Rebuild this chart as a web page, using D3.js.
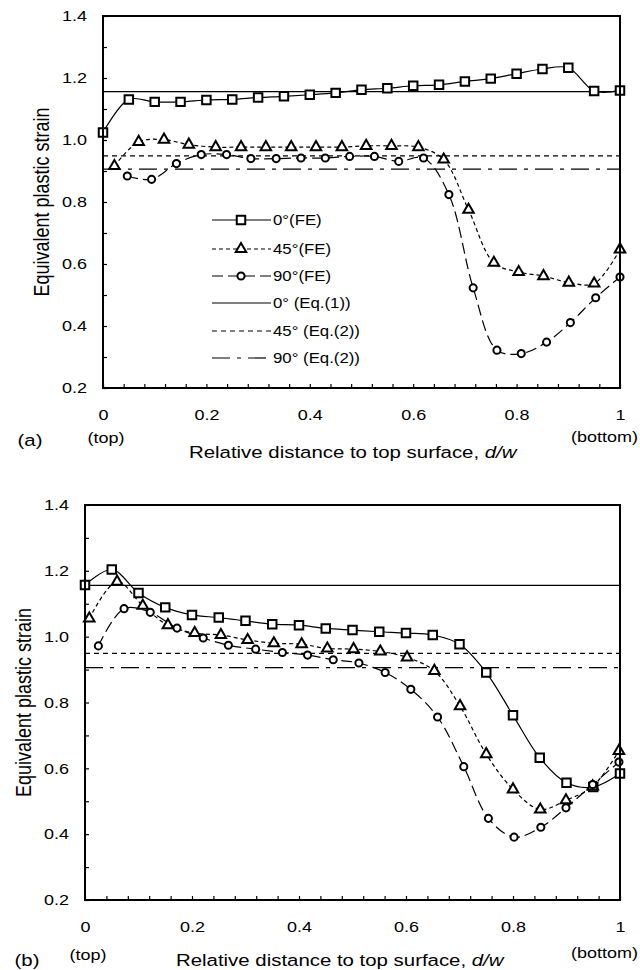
<!DOCTYPE html>
<html>
<head>
<meta charset="utf-8">
<script src="https://cdn.jsdelivr.net/npm/d3@7"></script>
<style>
body{margin:0;background:#fff;}
svg{display:block;}
text{font-family:"Liberation Sans",Arial,sans-serif;fill:#000;}
</style>
</head>
<body>
<script>
// ---- panel (a) ----
var aSquareX = [0,0.05,0.10,0.15,0.20,0.25,0.30,0.35,0.40,0.45,0.50,0.55,0.60,0.65,0.70,0.75,0.80,0.85,0.90,0.95,1.00];
var aSquareY = [1.024,1.131,1.123,1.123,1.129,1.131,1.137,1.141,1.146,1.152,1.162,1.167,1.175,1.178,1.189,1.198,1.214,1.229,1.233,1.158,1.160];
var aTriX = [0.022,0.069,0.118,0.166,0.218,0.267,0.315,0.364,0.412,0.462,0.509,0.558,0.610,0.659,0.707,0.756,0.804,0.852,0.901,0.950,1.000];
var aTriY = [0.916,0.994,1.001,0.985,0.977,0.977,0.977,0.977,0.977,0.977,0.981,0.981,0.977,0.937,0.775,0.604,0.574,0.561,0.540,0.537,0.647];
var aCircX = [0.047,0.094,0.142,0.190,0.239,0.286,0.335,0.383,0.430,0.477,0.525,0.572,0.620,0.669,0.716,0.762,0.809,0.858,0.904,0.953,1.000];
var aCircY = [0.884,0.873,0.924,0.953,0.953,0.940,0.940,0.942,0.942,0.947,0.947,0.931,0.942,0.824,0.523,0.322,0.311,0.348,0.411,0.491,0.558];

// ---- panel (b) ----
var bSquareX = [0,0.05,0.10,0.15,0.20,0.25,0.30,0.35,0.40,0.45,0.50,0.55,0.60,0.65,0.70,0.75,0.80,0.85,0.90,0.95,1.00];
var bSquareY = [1.157,1.204,1.133,1.089,1.066,1.058,1.048,1.038,1.035,1.025,1.020,1.015,1.011,1.005,0.977,0.891,0.761,0.632,0.556,0.543,0.584];
var bTriX = [0.008,0.060,0.108,0.155,0.205,0.254,0.304,0.353,0.405,0.453,0.502,0.552,0.602,0.653,0.701,0.750,0.800,0.851,0.899,0.949,0.998];
var bTriY = [1.055,1.167,1.094,1.035,1.011,1.005,0.990,0.980,0.977,0.964,0.962,0.955,0.937,0.896,0.789,0.643,0.536,0.475,0.503,0.545,0.653];
var bCircX = [0.025,0.073,0.122,0.172,0.221,0.268,0.319,0.369,0.416,0.464,0.512,0.561,0.609,0.659,0.708,0.754,0.802,0.852,0.899,0.949,0.998];
var bCircY = [0.972,1.085,1.074,1.026,0.996,0.974,0.962,0.952,0.944,0.930,0.920,0.891,0.840,0.756,0.605,0.448,0.391,0.421,0.480,0.551,0.619];

// analytical values (Eq.(1), Eq.(2))
var eqValues = [1.156, 0.949, 0.906];

var legendNames = ["0\u00b0(FE)","45\u00b0(FE)","90\u00b0(FE)","0\u00b0 (Eq.(1))","45\u00b0 (Eq.(2))","90\u00b0 (Eq.(2))"];

var xTicks = [0,0.04,0.08,0.12,0.16,0.2,0.24,0.28,0.32,0.36,0.4,0.44,0.48,0.52,0.56,0.6,0.64,0.68,0.72,0.76,0.8,0.84,0.88,0.92,0.96,1];
var xLabels = [0,0.2,0.4,0.6,0.8,1];
var yTicks = [0.2,0.3,0.4,0.5,0.6,0.7,0.8,0.9,1.0,1.1,1.2,1.3,1.4];
var yLabels = [0.2,0.4,0.6,0.8,1.0,1.2,1.4];

var SX = 1.2; // the text in the figure is stretched sideways
var feDash = [null, "4,3", "11,5"];
var eqDash = [null, "5,4", "18,7,4,7"];
var markers = [d3.symbolSquare, d3.symbolTriangle, d3.symbolCircle];
var markerSize = [72, 48, 40];

var svg = d3.select("body").append("svg")
		.attr("width", 640)
		.attr("height", 970);

function addText(g, x, y, str, anchor, size){
	return g.append("text")
		.attr("transform", "translate("+x+","+y+") scale("+SX+",1)")
		.attr("text-anchor", anchor)
		.attr("dy", "0.35em")
		.style("font-size", size+"px")
		.text(str);
}

function drawMarker(g, type, cx, cy){
	g.append("path")
		.attr("d", d3.symbol().type(markers[type]).size(markerSize[type])())
		.attr("transform", "translate("+cx+","+cy+")")
		.attr("fill", "#fff")
		.attr("stroke", "#000")
		.attr("stroke-width", 2);
}

function drawPanel(p){
	var x = d3.scaleLinear().domain([0,1]).range([p.left, p.right]);
	var y = d3.scaleLinear().domain([0.2,1.4]).range([p.bottom, p.top]);
	var g = svg.append("g");

	// horizontal reference lines
	eqValues.forEach(function(v, i){
		g.append("line")
			.attr("x1", x(0)).attr("x2", x(1))
			.attr("y1", y(v)).attr("y2", y(v))
			.attr("stroke", "#000")
			.attr("stroke-width", 1.2)
			.attr("stroke-dasharray", eqDash[i]);
	});

	// FE series
	var line = d3.line()
		.x(function(d){ return x(d[0]); })
		.y(function(d){ return y(d[1]); })
		.curve(d3.curveCatmullRom.alpha(0.5));

	p.series.forEach(function(s, i){
		var pts = d3.zip(s[0], s[1]);
		g.append("path")
			.attr("d", line(pts))
			.attr("fill", "none")
			.attr("stroke", "#000")
			.attr("stroke-width", 1.2)
			.attr("stroke-dasharray", feDash[i]);
	});
	p.series.forEach(function(s, i){
		d3.zip(s[0], s[1]).forEach(function(d){
			drawMarker(g, i, x(d[0]), y(d[1]));
		});
	});

	// axes, ticks pointing inward
	var xAxis = d3.axisBottom(x)
		.tickValues(xTicks)
		.tickSizeInner(-4)
		.tickSizeOuter(0)
		.tickPadding(21)
		.tickFormat(function(d){ return xLabels.indexOf(d) >= 0 ? String(d) : ""; });
	var gx = g.append("g").attr("transform", "translate(0,"+p.bottom+")").call(xAxis);

	var yAxis = d3.axisLeft(y)
		.tickValues(yTicks)
		.tickSizeInner(-4)
		.tickSizeOuter(0)
		.tickPadding(16/SX)
		.tickFormat(function(d){ return yLabels.indexOf(d) >= 0 ? d.toFixed(1) : ""; });
	var gy = g.append("g").attr("transform", "translate("+p.left+",0)").call(yAxis);

	[gx, gy].forEach(function(a){
		a.select(".domain").remove();
		a.selectAll("line").attr("stroke", "#000").attr("stroke-width", 1.2);
		a.selectAll("text")
			.attr("transform", "scale("+SX+",1)")
			.style("font-size", "15px")
			.style("font-family", "'Liberation Sans',Arial,sans-serif")
			.attr("fill", "#000");
	});

	// frame
	g.append("rect")
		.attr("x", p.left).attr("y", p.top)
		.attr("width", p.right-p.left).attr("height", p.bottom-p.top)
		.attr("fill", "none")
		.attr("stroke", "#000")
		.attr("stroke-width", 2);

	// titles
	g.append("text")
		.attr("transform", "translate("+p.yTitleX+","+((p.top+p.bottom)/2)+") rotate(-90) scale(1,"+SX+")")
		.attr("text-anchor", "middle")
		.attr("dy", "0.35em")
		.style("font-size", "18px")
		.text("Equivalent plastic strain");

	var xt = g.append("text")
		.attr("transform", "translate("+p.xTitleX+","+p.xTitleY+") scale("+SX+",1)")
		.attr("text-anchor", "start")
		.attr("dy", "0.35em")
		.style("font-size", "17px");
	xt.append("tspan").text("Relative distance to top surface, ");
	xt.append("tspan").style("font-style", "italic").text("d/w");

	addText(g, x(0)+3, p.topY, "(top)", "middle", 15);
	addText(g, 638, p.bottomY, "(bottom)", "end", 15);
	addText(g, p.tagX, p.tagY, p.tag, "middle", 17);

	return g;
}

drawPanel({
	left:103, right:620, top:16, bottom:388,
	series:[[aSquareX,aSquareY],[aTriX,aTriY],[aCircX,aCircY]],
	yTitleX:41, xTitleX:189, xTitleY:452,
	topY:438, bottomY:437, tag:"(a)", tagX:30, tagY:440
});

drawPanel({
	left:85, right:620, top:505, bottom:900,
	series:[[bSquareX,bSquareY],[bTriX,bTriY],[bCircX,bCircY]],
	yTitleX:23, xTitleX:176, xTitleY:960,
	topY:955, bottomY:953, tag:"(b)", tagX:27, tagY:960
});

// legend (panel a)
var legendY = [220,249,276,303,331,358];
var leg = svg.append("g");
legendNames.forEach(function(name, i){
	var dash = i < 3 ? feDash[i] : eqDash[i-3];
	leg.append("line")
		.attr("x1", 212).attr("x2", 271)
		.attr("y1", legendY[i]).attr("y2", legendY[i])
		.attr("stroke", "#000")
		.attr("stroke-width", 1.2)
		.attr("stroke-dasharray", dash);
	if(i < 3){
		drawMarker(leg, i, 241, legendY[i]);
	}
	addText(leg, 273, legendY[i], name, "start", 14);
});
</script>
</body>
</html>
